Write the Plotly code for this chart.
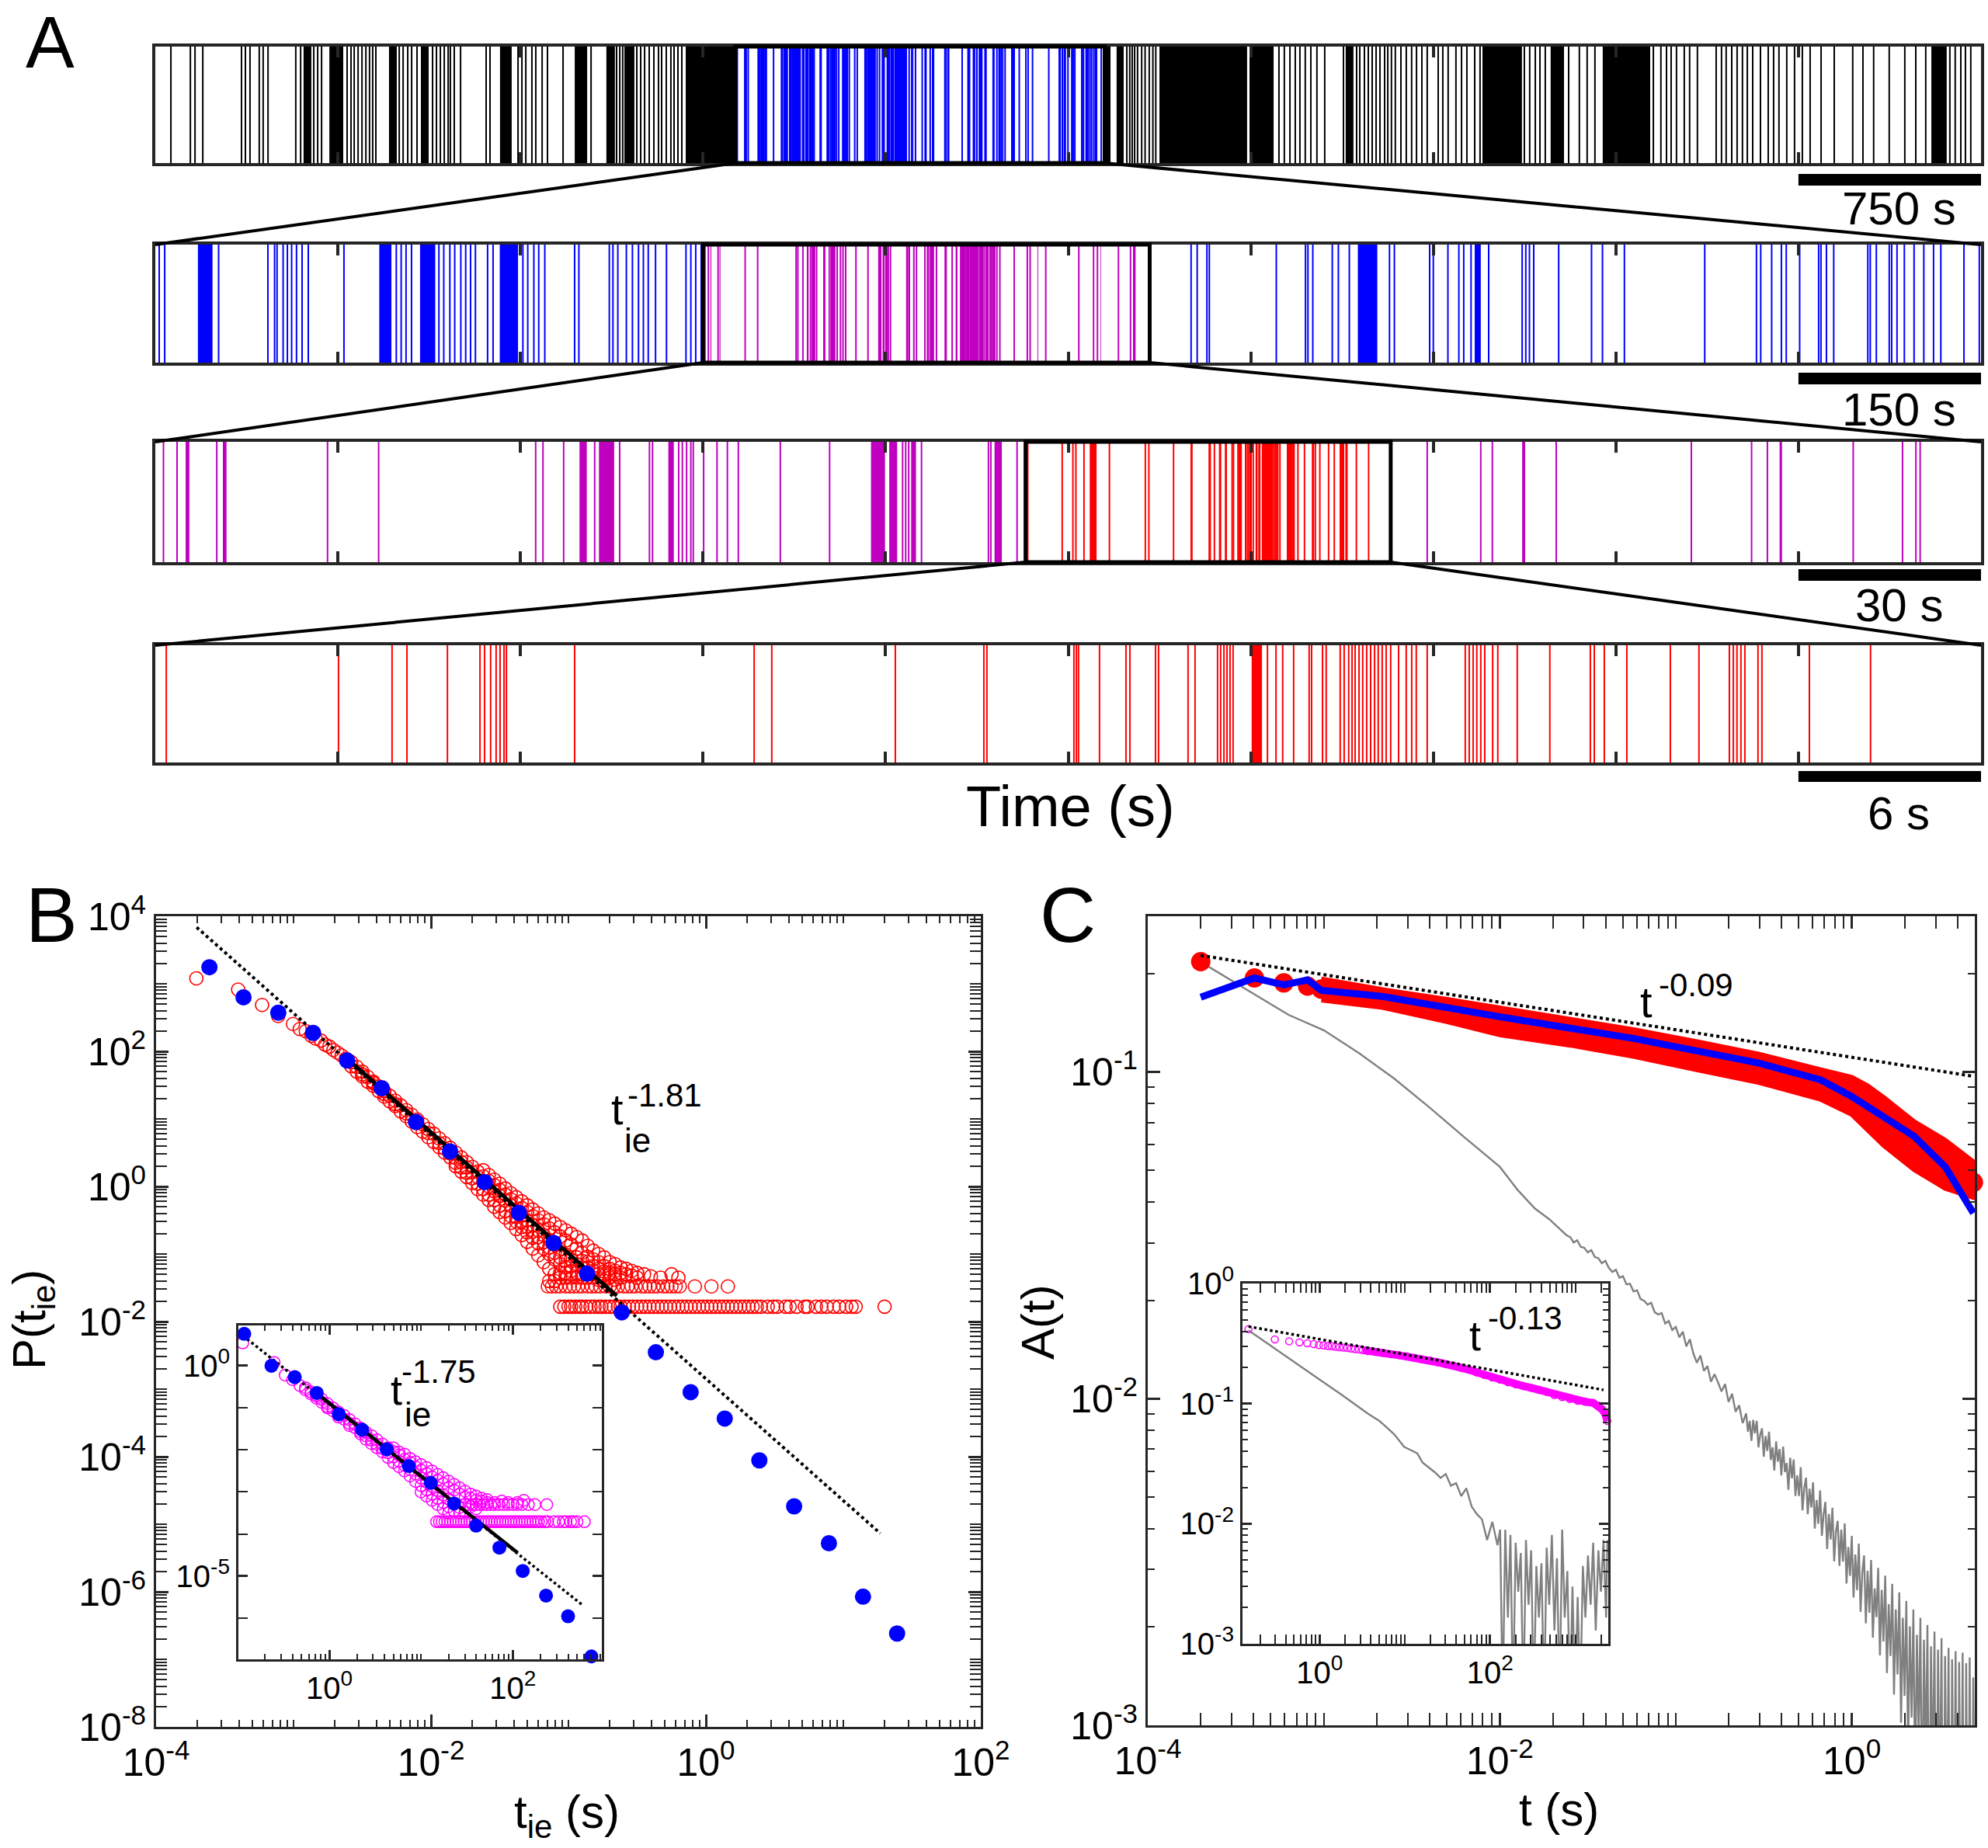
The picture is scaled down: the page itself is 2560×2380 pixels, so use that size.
import plotly.graph_objects as go

W, H = 2560, 2380
FONT = "Liberation Sans, Arial, Helvetica, sans-serif"
AXC = "#262626"

# ============================ DATA ============================
# ---- Panel A : event rasters (times in s) ----
row_span_s = [7500, 1500, 300, 60]
zoom_windows_s = [(2383, 3900), (450, 817), (143, 203)]
scale_bar_s = [750, 150, 30, 6]
scale_bar_text = ["750 s", "150 s", "30 s", "6 s"]
row_colors = ["#000000", "#0000FF", "#BF00BF", "#FF0000"]

row1_spikes = [64, 144, 163, 195, 354, 370, 389, 427, 443, 463, 577, 597, 651, 667, 683,
               788, 804, 817, 833, 849, 865, 880, 893, 906, 1002, 1018, 1037, 1053, 1075,
               1139, 1155, 1171, 1187, 1203, 1212, 1228, 1254, 1359, 1375, 1490, 1506, 1522,
               1547, 1563, 1589, 1611, 1675, 1790, 1895, 1908, 1920, 1978, 1994, 2010, 2029,
               2048, 2067, 2080, 2099, 2118, 2131, 2147, 2163,
               3991, 4003, 4013, 4023, 4035, 4052, 4066, 4083, 4098, 4110,
               4616, 4638, 4661, 4683, 4702, 4724, 4747, 4772,
               4804, 4881, 4935, 4948, 4967, 4983, 4999, 5015, 5031, 5050, 5063, 5078, 5094,
               5117, 5139, 5161, 5181, 5203, 5225, 5270, 5289, 5311, 5343, 5366, 5388, 5420,
               5442, 5624, 5646, 5669, 5688, 5710, 5806, 5850, 5882, 5914, 6154, 6185, 6208,
               6227, 6249, 6281, 6303, 6335, 6412, 6434, 6453, 6476, 6498, 6520, 6540, 6562,
               6594, 6626, 6648, 6670, 6702, 6734, 6766, 6798, 6843, 6897, 6973, 7015, 7059,
               7123, 7187, 7232, 7273, 7372, 7394, 7417, 7436, 7458]
row1_bursts = [(609, 641), (715, 772), (960, 992), (1091, 1123), (1416, 1464), (1723, 1774),
               (1853, 1888), (1927, 1968), (2179, 2383), (3908, 3924), (3949, 3978),
               (4125, 4485), (4495, 4594), (4890, 4922), (5452, 5614), (5732, 5787),
               (5946, 6141), (7296, 7359)]

row2_spikes = [3.2, 7.7, 52, 92.5, 98, 100, 105, 108.5, 112, 116, 120.6, 125.7, 155, 198, 202,
               206, 210.5, 233, 237, 242, 246, 251, 255, 259, 263, 273, 277.5, 302, 306, 311,
               315, 320, 344.5, 348, 373, 376, 380, 387, 392, 397, 401, 405, 411, 420, 436,
               440, 444, 448.5,
               851, 856, 864, 866, 921, 945, 947, 951, 967, 972, 981, 1014, 1018, 1047, 1050,
               1062, 1071, 1075, 1081, 1095.5, 1123, 1126, 1129, 1132.5, 1153, 1180, 1189,
               1207, 1273, 1315.5, 1319, 1328, 1336, 1340, 1351, 1366.6, 1368.5, 1373, 1379,
               1407, 1409, 1414, 1424.6, 1426.6, 1431, 1437, 1445, 1453, 1461, 1467, 1486,
               1498.6]
row2_bursts = [(35, 47), (184, 194), (217.5, 230), (283, 298), (988, 1004), (1084, 1089)]

row3_spikes = [1.34, 3.57, 10.1, 28.3, 36.7, 62.5, 63.7, 67.1, 72.2, 76.3, 81.2, 81.7, 86.0,
               86.6, 87.3, 88.0, 88.4, 90.1, 92.3, 94.0, 95.8, 102.7, 110.8, 122.8, 123.3,
               123.8, 125.9, 136.9, 137.3, 141.6, 209.0, 217.8, 219.7, 230.2, 252.4, 262.3,
               264.9, 279.0, 287.1, 289.3, 290.0]
row3_bursts = [(4.98, 5.6), (11.1, 11.7), (69.7, 70.9), (72.9, 75.4), (84.3, 85.2),
               (117.6, 119.9), (120.6, 121.9), (124.2, 125.0), (137.9, 139.1),
               (224.6, 225.1), (266.9, 267.3)]

row4_spikes = [0.36, 6.02, 7.78, 8.27, 9.6, 10.67, 10.82, 11.02, 11.2, 11.33, 11.46, 11.54,
               13.78, 19.68, 20.26, 24.32, 27.23, 27.33, 30.19, 30.27, 30.34, 31.03, 31.9,
               32.03, 32.87, 32.97, 33.94, 34.17, 34.91, 35.01, 35.12, 35.22, 35.32, 35.42,
               36.55, 36.83, 37.05, 37.41, 37.92, 38.0, 38.36, 38.48, 38.94, 39.07, 39.22,
               39.33, 39.43, 39.56, 39.68, 39.81, 39.94, 40.07, 40.19, 40.32, 40.45, 40.6,
               40.86, 41.11, 41.29, 41.44, 41.8, 43.05, 43.18, 43.31, 43.43, 43.56, 43.69,
               43.95, 44.12, 44.76, 45.83, 47.16, 47.29, 47.62, 48.36, 49.79, 50.73, 51.73,
               51.86, 51.98, 52.11, 52.24, 52.67, 52.8, 54.36, 56.37]
row4_bursts = [(36.03, 36.37)]

# ---- Panel B : inter-event time distribution (log10 values) ----
b_blue_logt = [-3.612, -3.364, -3.111, -2.858, -2.610, -2.358, -2.109, -1.861, -1.609, -1.361,
               -1.108, -0.865, -0.612, -0.364, -0.111, 0.137, 0.389, 0.642, 0.895, 1.143, 1.391]
b_blue_logp = [3.245, 2.80, 2.573, 2.273, 1.864, 1.455, 0.955, 0.518, 0.064, -0.391, -0.836,
               -1.291, -1.864, -2.455, -3.045, -3.436, -4.055, -4.736, -5.282, -6.073, -6.618]
b_red_columns = [
    (-3.707, [3.08]), (-3.403, [2.914]), (-3.229, [2.687]), (-3.112, [2.523]),
    (-3.004, [2.405]), (-2.955, [2.33]), (-2.911, [2.299]), (-2.870, [2.23]),
    (-2.840, [2.19]), (-2.800, [2.16]), (-2.770, [2.10]), (-2.740, [2.07]),
    (-2.710, [2.02]), (-2.680, [1.98]), (-2.650, [1.94]), (-2.620, [1.89]),
    (-2.58, [1.84, 1.78]), (-2.54, [1.77, 1.70]), (-2.50, [1.70, 1.63, 1.66]),
    (-2.46, [1.62, 1.55]), (-2.42, [1.55, 1.49, 1.53]), (-2.38, [1.48, 1.41]),
    (-2.34, [1.41, 1.33, 1.37]), (-2.30, [1.34, 1.26]), (-2.26, [1.27, 1.19, 1.22]),
    (-2.22, [1.20, 1.11]), (-2.18, [1.13, 1.04, 1.08]), (-2.14, [1.06, 0.96]),
    (-2.10, [0.99, 0.88, 0.94]), (-2.06, [0.92, 0.81]), (-2.02, [0.85, 0.73, 0.79]),
    (-1.98, [0.78, 0.66]), (-1.94, [0.71, 0.58, 0.64]), (-1.90, [0.64, 0.50, 0.56]),
    (-1.86, [0.57, 0.43, 0.49]), (-1.82, [0.50, 0.35, 0.42, 0.30]),
    (-1.78, [0.43, 0.28, 0.36, 0.22]), (-1.74, [0.36, 0.20, 0.28, 0.14]),
    (-1.70, [0.29, 0.12, 0.21, 0.05]), (-1.66, [0.22, 0.04, 0.14, -0.04]),
    (-1.62, [0.15, -0.04, 0.07, -0.12, 0.24]), (-1.58, [0.08, -0.12, 0.00, -0.20, 0.17]),
    (-1.54, [0.02, -0.20, -0.07, -0.30, 0.10]), (-1.50, [-0.05, -0.28, -0.14, -0.38, 0.04]),
    (-1.46, [-0.12, -0.36, -0.21, -0.46, -0.03]), (-1.42, [-0.19, -0.44, -0.28, -0.54, -0.10]),
    (-1.38, [-0.25, -0.52, -0.36, -0.63, -0.16, -0.45]),
    (-1.34, [-0.32, -0.60, -0.43, -0.72, -0.22, -0.52]),
    (-1.30, [-0.38, -0.68, -0.50, -0.82, -0.28, -0.60]),
    (-1.26, [-0.44, -0.76, -0.57, -0.92, -0.34, -0.67]),
    (-1.22, [-0.50, -0.84, -0.65, -1.02, -0.40, -0.75]),
    (-1.18, [-0.56, -0.92, -0.72, -1.12, -0.46, -0.82]),
    (-1.14, [-0.62, -1.00, -0.79, -1.22, -0.50, -0.90, -1.40]),
    (-1.10, [-0.68, -1.08, -0.86, -1.30, -0.55, -0.98, -1.40]),
    (-1.06, [-0.74, -1.15, -0.94, -1.35, -0.60, -1.05, -1.28]),
    (-1.02, [-0.80, -1.20, -1.01, -1.35, -0.65, -1.10, -1.28]),
    (-0.98, [-0.86, -1.25, -1.08, -1.35, -0.70, -1.18]),
    (-0.94, [-0.92, -1.28, -1.15, -1.35, -0.75, -1.05]),
    (-0.90, [-0.98, -1.30, -1.20, -0.80, -1.10, -1.35]),
    (-0.86, [-1.04, -1.30, -1.20, -0.88, -1.12, -1.35]),
    (-0.82, [-1.08, -1.25, -1.35, -0.95, -1.18]),
    (-0.78, [-1.12, -1.30, -1.38, -1.00, -1.22]),
    (-0.74, [-1.18, -1.32, -1.40, -1.05, -1.26]),
    (-0.70, [-1.22, -1.35, -1.12, -1.28]), (-0.66, [-1.25, -1.38, -1.15, -1.30]),
    (-0.62, [-1.28, -1.20, -1.35]), (-0.58, [-1.30, -1.22]), (-0.54, [-1.32, -1.25]),
    (-0.50, [-1.28, -1.35]), (-0.45, [-1.30]), (-0.40, [-1.33]), (-0.33, [-1.35]),
    (-0.25, [-1.30]), (-0.20, [-1.35]),
]
b_red_floor_logp = -1.78
b_red_floor_logt = [-1.06, -1.03, -1.00, -0.98, -0.95, -0.92, -0.90, -0.87, -0.84, -0.81, -0.78,
                    -0.76, -0.73, -0.70, -0.67, -0.64, -0.62, -0.59, -0.56, -0.53, -0.50, -0.47,
                    -0.44, -0.41, -0.38, -0.35, -0.32, -0.29, -0.26, -0.23, -0.20, -0.17, -0.14,
                    -0.11, -0.08, -0.05, -0.02, 0.01, 0.04, 0.07, 0.10, 0.13, 0.16, 0.19, 0.22,
                    0.25, 0.28, 0.31, 0.34, 0.37, 0.40, 0.45, 0.49, 0.52, 0.58, 0.61, 0.66, 0.72,
                    0.74, 0.80, 0.84, 0.88, 0.93, 0.97, 1.02, 1.06, 1.09, 1.30]
b_red_floor2_logp = -1.48
b_red_floor2_logt = [-1.15, -1.12, -1.09, -1.06, -1.02, -0.99, -0.96, -0.93, -0.90, -0.86, -0.83,
                     -0.80, -0.77, -0.73, -0.70, -0.67, -0.64, -0.60, -0.57, -0.54, -0.51, -0.47,
                     -0.44, -0.41, -0.38, -0.35, -0.31, -0.28, -0.25, -0.22, -0.19, -0.08, 0.04, 0.16]
b_dotted_logt = [-3.705, 1.269]
b_dotted_logp = [3.836, -5.136]
b_solid_logt = [-2.568, -0.649]
b_solid_logp = [1.818, -1.618]

# inset of B
bi_blue_logt = [-0.926, -0.630, -0.376, -0.136, 0.104, 0.358, 0.626, 0.866, 1.106, 1.360, 1.600,
                1.854, 2.108, 2.362, 2.602, 2.856]
bi_blue_logp = [0.760, 0.002, -0.270, -0.645, -1.151, -1.521, -1.983, -2.383, -2.784, -3.277,
                -3.800, -4.324, -4.878, -5.464, -5.957, -6.911]
bi_mag_columns = [
    (-0.943, [0.543]), (-0.60, [0.08]), (-0.48, [-0.22]), (-0.40, [-0.33]), (-0.32, [-0.47]),
    (-0.26, [-0.57, -0.52]), (-0.20, [-0.67, -0.62]), (-0.14, [-0.77, -0.72, -0.70]),
    (-0.08, [-0.87, -0.80]), (-0.02, [-0.97, -0.90, -1.00]), (0.04, [-1.07, -1.00]),
    (0.10, [-1.17, -1.10, -1.22]), (0.16, [-1.27, -1.18]), (0.22, [-1.37, -1.28, -1.42]),
    (0.28, [-1.47, -1.38]), (0.34, [-1.57, -1.48, -1.62]), (0.40, [-1.67, -1.58, -1.75]),
    (0.46, [-1.77, -1.66, -1.85]), (0.52, [-1.87, -1.76, -1.95]), (0.58, [-1.97, -1.86, -2.05]),
    (0.64, [-2.07, -1.95, -2.18]), (0.70, [-2.17, -2.04, -2.30, -1.95]),
    (0.76, [-2.27, -2.12, -2.40, -2.05]), (0.82, [-2.37, -2.22, -2.50, -2.10]),
    (0.88, [-2.47, -2.30, -2.62, -2.20]), (0.94, [-2.57, -2.40, -2.75, -2.28]),
    (1.00, [-2.67, -2.48, -2.85, -2.35, -3.00]), (1.06, [-2.77, -2.56, -2.95, -2.42, -3.10]),
    (1.12, [-2.87, -2.64, -3.05, -2.50, -3.20]), (1.18, [-2.97, -2.72, -3.15, -2.58, -3.30]),
    (1.24, [-3.07, -2.80, -3.25, -2.66, -3.40]), (1.30, [-3.17, -2.90, -3.35, -2.74, -3.50]),
    (1.36, [-3.27, -2.96, -3.45, -2.82]), (1.42, [-3.37, -3.05, -3.50, -2.90]),
    (1.48, [-3.47, -3.12, -2.98, -3.30]), (1.54, [-3.15, -3.05, -3.35]),
    (1.60, [-3.20, -3.10, -3.40]), (1.66, [-3.22, -3.15]), (1.72, [-3.25, -3.18]),
    (1.80, [-3.25]), (1.88, [-3.22]), (1.95, [-3.25]), (2.05, [-3.25]), (2.12, [-3.20]),
]
bi_mag_floor_logp = -3.708
bi_mag_floor_logt = [1.17, 1.20, 1.23, 1.26, 1.29, 1.32, 1.35, 1.38, 1.41, 1.44, 1.47, 1.50, 1.53,
                     1.56, 1.59, 1.62, 1.65, 1.68, 1.71, 1.74, 1.77, 1.80, 1.83, 1.86, 1.89, 1.92,
                     1.95, 1.98, 2.01, 2.04, 2.07, 2.10, 2.13, 2.16, 2.19, 2.22, 2.25, 2.28, 2.31,
                     2.35, 2.38, 2.45, 2.50, 2.55, 2.58, 2.63, 2.66, 2.70, 2.78]
bi_mag_floor2_logp = -3.30
bi_mag_floor2_logt = [1.52, 1.56, 1.60, 1.64, 1.68, 1.72, 1.76, 1.80, 1.85, 1.90, 1.95, 2.00,
                      2.05, 2.10, 2.17, 2.24, 2.37]
bi_dotted_logt = [-0.941, 2.771]
bi_dotted_logp = [0.715, -5.710]
bi_solid_logt = [-0.150, 2.052]
bi_solid_logp = [-0.627, -4.447]

# ---- Panel C : autocorrelation A(t) (log10 values) ----
c_red_logt = [-3.699, -3.394, -3.227, -3.092, -3.014, -2.943, -2.85, -2.75, -2.66, -2.55, -2.45,
              -2.35, -2.25, -2.15, -2.05, -1.95, -1.85, -1.75, -1.65, -1.55, -1.45, -1.35, -1.25,
              -1.15, -1.05, -0.95, -0.85, -0.75, -0.65, -0.55, -0.45, -0.35, -0.25, -0.15, -0.05,
              0.05, 0.15, 0.25, 0.35, 0.45, 0.55, 0.63, 0.691]
c_red_loga = [-0.662, -0.712, -0.727, -0.737, -0.746, -0.750, -0.758, -0.768, -0.775, -0.785,
              -0.794, -0.804, -0.813, -0.824, -0.835, -0.848, -0.857, -0.866, -0.874, -0.883,
              -0.892, -0.902, -0.912, -0.924, -0.935, -0.947, -0.960, -0.972, -0.984, -0.996,
              -1.008, -1.020, -1.032, -1.045, -1.062, -1.095, -1.140, -1.180, -1.222, -1.258,
              -1.290, -1.315, -1.338]
# upper / lower edges of the dense red band of circles
c_red_upper = [(-3.014, -0.715), (-2.66, -0.748), (-2.30, -0.777), (-2.0, -0.804), (-1.6, -0.837),
               (-1.24, -0.870), (-0.88, -0.907), (-0.53, -0.945), (-0.18, -0.992), (0.0, -1.016),
               (0.09, -1.042), (0.18, -1.077), (0.355, -1.152), (0.53, -1.208), (0.69, -1.274)]
c_red_lower = [(-3.014, -0.780), (-2.66, -0.803), (-2.30, -0.846), (-2.0, -0.886), (-1.6, -0.918),
               (-1.24, -0.952), (-0.88, -0.993), (-0.53, -1.032), (-0.18, -1.083), (0.0, -1.130),
               (0.18, -1.224), (0.355, -1.299), (0.53, -1.356), (0.69, -1.384)]
c_blue_logt = [-3.699, -3.394, -3.227, -3.092, -3.014, -2.660, -1.996, -1.241, -0.532, -0.177,
               0.0, 0.355, 0.532, 0.691]
c_blue_loga = [-0.771, -0.712, -0.733, -0.718, -0.750, -0.769, -0.831, -0.897, -0.972, -1.024,
               -1.075, -1.197, -1.291, -1.432]
c_gray = [
    (-3.699, -0.663), (-3.40, -0.760), (-3.20, -0.825), (-3.00, -0.872), (-2.80, -0.942),
    (-2.60, -1.020), (-2.40, -1.108), (-2.20, -1.200), (-2.00, -1.290), (-1.90, -1.360),
    (-1.80, -1.418), (-1.72, -1.450), (-1.66, -1.480), (-1.64, -1.488), (-1.62, -1.500),
    (-1.60, -1.505), (-1.58, -1.522), (-1.56, -1.515), (-1.54, -1.535), (-1.52, -1.538),
    (-1.50, -1.552), (-1.48, -1.545), (-1.46, -1.566), (-1.44, -1.570), (-1.42, -1.585),
    (-1.40, -1.578), (-1.38, -1.600), (-1.36, -1.612), (-1.34, -1.605), (-1.32, -1.630),
    (-1.30, -1.625), (-1.28, -1.650), (-1.26, -1.648), (-1.24, -1.672), (-1.22, -1.668),
    (-1.20, -1.695), (-1.18, -1.700), (-1.16, -1.712), (-1.14, -1.706), (-1.12, -1.735),
    (-1.10, -1.742), (-1.08, -1.738), (-1.06, -1.770), (-1.04, -1.762), (-1.02, -1.790),
    (-1.00, -1.780), (-0.98, -1.812), (-0.96, -1.795), (-0.94, -1.840), (-0.92, -1.818),
    (-0.90, -1.862), (-0.88, -1.890), (-0.86, -1.868), (-0.84, -1.915), (-0.82, -1.900),
    (-0.80, -1.948), (-0.78, -1.925), (-0.76, -1.950), (-0.74, -1.978), (-0.72, -1.955),
    (-0.70, -2.010), (-0.68, -1.985), (-0.66, -2.040), (-0.64, -2.020), (-0.62, -2.075),
    (-0.60, -2.045), (-0.59, -2.101), (-0.58, -2.068), (-0.57, -2.129), (-0.56, -2.065),
    (-0.55, -2.106), (-0.54, -2.068), (-0.53, -2.149), (-0.52, -2.110), (-0.51, -2.091),
    (-0.50, -2.178), (-0.49, -2.114), (-0.48, -2.160), (-0.47, -2.101), (-0.46, -2.188),
    (-0.45, -2.149), (-0.44, -2.220), (-0.43, -2.131), (-0.42, -2.193), (-0.41, -2.154),
    (-0.40, -2.235), (-0.39, -2.147), (-0.38, -2.225), (-0.37, -2.197), (-0.36, -2.279),
    (-0.35, -2.181), (-0.34, -2.244), (-0.33, -2.186), (-0.32, -2.298), (-0.31, -2.235),
    (-0.30, -2.298), (-0.29, -2.210), (-0.28, -2.342), (-0.27, -2.274), (-0.26, -2.242),
    (-0.25, -2.354), (-0.24, -2.276), (-0.23, -2.333), (-0.22, -2.256), (-0.21, -2.398),
    (-0.20, -2.310), (-0.19, -2.383), (-0.18, -2.281), (-0.17, -2.420), (-0.16, -2.353),
    (-0.15, -2.316), (-0.14, -2.460), (-0.13, -2.353), (-0.12, -2.431), (-0.11, -2.334),
    (-0.10, -2.498), (-0.09, -2.406), (-0.08, -2.374), (-0.07, -2.512), (-0.06, -2.401),
    (-0.05, -2.499), (-0.04, -2.382), (-0.03, -2.566), (-0.02, -2.454), (-0.01, -2.542),
    (0.00, -2.420), (0.01, -2.609), (0.02, -2.477), (0.03, -2.586), (0.04, -2.444),
    (0.05, -2.653), (0.06, -2.531), (0.07, -2.480), (0.08, -2.688), (0.09, -2.527),
    (0.10, -2.655), (0.11, -2.494), (0.12, -2.732), (0.13, -2.581), (0.14, -2.669),
    (0.15, -2.518), (0.16, -2.786), (0.17, -2.585), (0.18, -2.743), (0.19, -2.542),
    (0.20, -2.840), (0.21, -2.629), (0.22, -2.788), (0.23, -2.567), (0.24, -2.906),
    (0.25, -2.645), (0.26, -2.844), (0.27, -2.593), (0.28, -2.992), (0.29, -2.671),
    (0.30, -2.910), (0.31, -2.619), (0.32, -3.078), (0.33, -2.697), (0.34, -2.976),
    (0.35, -2.645), (0.36, -3.214), (0.37, -2.723), (0.38, -3.032), (0.39, -2.671),
    (0.40, -3.350), (0.41, -2.738), (0.42, -3.115), (0.43, -2.693), (0.44, -3.480),
    (0.45, -2.758), (0.46, -3.195), (0.47, -2.713), (0.48, -3.610), (0.49, -2.768),
    (0.50, -3.275), (0.51, -2.733), (0.52, -3.740), (0.53, -2.788), (0.54, -3.355),
    (0.55, -2.763), (0.56, -3.770), (0.57, -2.798), (0.58, -3.435), (0.59, -2.773),
    (0.60, -3.800), (0.61, -2.806), (0.62, -3.512), (0.63, -2.778), (0.64, -3.824),
    (0.65, -2.810), (0.66, -3.636), (0.67, -2.792), (0.68, -3.848), (0.69, -2.854),
    (0.70, -3.560),
]
c_dotted_logt = [-3.699, 0.691]
c_dotted_loga = [-0.643, -1.013]

# inset of C
ci_mag_logt = [-0.836, -0.526, -0.359, -0.238, -0.146, -0.070, -0.010, 0.045, 0.097, 0.142, 0.188,
               0.233, 0.279, 0.324, 0.370, 0.415, 0.461, 0.506, 0.567, 0.659, 0.750, 0.841, 0.932,
               1.024, 1.115, 1.206, 1.297, 1.388, 1.480, 1.571, 1.662, 1.753, 1.844, 1.935, 2.026,
               2.118, 2.209, 2.300, 2.391, 2.482, 2.573, 2.664, 2.755, 2.846, 2.937, 3.028, 3.119,
               3.210, 3.271, 3.316, 3.347, 3.377]
ci_mag_loga = [-0.380, -0.466, -0.481, -0.490, -0.498, -0.505, -0.512, -0.516, -0.520, -0.522,
               -0.527, -0.531, -0.533, -0.537, -0.541, -0.546, -0.550, -0.554, -0.563, -0.570,
               -0.578, -0.589, -0.597, -0.606, -0.619, -0.632, -0.641, -0.656, -0.671, -0.684,
               -0.701, -0.718, -0.740, -0.761, -0.783, -0.800, -0.822, -0.839, -0.854, -0.869,
               -0.886, -0.903, -0.929, -0.946, -0.962, -0.977, -0.985, -0.994, -1.016, -1.048,
               -1.080, -1.145]
ci_gray = [
    (-0.836, -0.390), (-0.131, -0.736), (0.264, -0.930), (0.568, -1.085), (0.704, -1.146),
    (0.871, -1.253), (0.993, -1.361), (1.054, -1.382), (1.145, -1.414), (1.206, -1.490),
    (1.266, -1.522), (1.358, -1.576), (1.419, -1.619), (1.479, -1.586), (1.540, -1.683),
    (1.601, -1.662), (1.662, -1.770), (1.722, -1.705), (1.783, -1.856), (1.844, -1.920),
    (1.905, -1.964), (1.965, -2.136), (2.026, -1.985), (2.087, -2.179), (2.118, -2.050),
    (2.148, -3.5), (2.178, -2.050), (2.209, -2.782), (2.239, -2.093), (2.269, -3.5),
    (2.300, -2.158), (2.330, -2.567), (2.360, -2.244), (2.391, -3.5), (2.421, -2.136),
    (2.451, -2.675), (2.482, -2.222), (2.512, -3.5), (2.543, -2.352), (2.573, -2.782),
    (2.603, -2.330), (2.634, -3.5), (2.664, -2.200), (2.694, -2.675), (2.725, -2.093),
    (2.755, -2.890), (2.785, -2.287), (2.816, -3.5), (2.846, -2.050), (2.876, -2.782),
    (2.907, -2.394), (2.937, -3.5), (2.967, -2.524), (2.998, -3.5), (3.028, -2.610),
    (3.058, -3.5), (3.089, -2.352), (3.119, -2.782), (3.149, -2.265), (3.180, -2.675),
    (3.210, -2.158), (3.240, -2.890), (3.271, -2.222), (3.301, -2.567), (3.331, -2.136),
    (3.362, -2.782), (3.377, -2.136),
]
ci_dotted_logt = [-0.836, 3.331]
ci_dotted_loga = [-0.358, -0.886]

# ============================ LAYOUT GEOMETRY (px) ============================
ROW_X = (200, 2551)
ROW_Y = [(60, 210), (315, 467), (569, 724), (831, 982)]
BAR_Y = [(224, 239), (480, 495), (733, 748), (993, 1007)]
BAR_LABEL_Y = [268, 527, 780, 1047]
B_BOX = (201, 1263, 1180, 2224)
BI_BOX = (307, 775, 1707, 2137)
C_BOX = (1478, 2543, 1180, 2222)
CI_BOX = (1600, 2071, 1653, 2117)


def xdom(a, b):
    return [a / W, b / W]


def ydom(top, bottom):
    return [1 - bottom / H, 1 - top / H]


def xa(i):
    return "x" if i == 1 else f"x{i}"


def ya(i):
    return "y" if i == 1 else f"y{i}"


def e10(v):
    return [10.0 ** a for a in v]


fig = go.Figure()


# ---------------- Panel A ----------------
def spike_xy(times):
    xs, ys = [], []
    for t in times:
        xs += [t, t, None]
        ys += [0, 1, None]
    return xs, ys


def burst_xy(bursts):
    xs, ys = [], []
    for a, b in bursts:
        xs += [a, b, b, a, a, None]
        ys += [0, 0, 1, 1, 0, None]
    return xs, ys


def remap(times, win, span):
    a, b = win
    return [a + t * (b - a) / span for t in times]


def remap_b(bursts, win, span):
    a, b = win
    return [(a + s * (b - a) / span, a + e * (b - a) / span) for s, e in bursts]


c4_sp, c4_bu = row4_spikes, row4_bursts
c3_sp = row3_spikes + remap(c4_sp, zoom_windows_s[2], row_span_s[3])
c3_bu = row3_bursts + remap_b(c4_bu, zoom_windows_s[2], row_span_s[3])
c2_sp = row2_spikes + remap(c3_sp, zoom_windows_s[1], row_span_s[2])
c2_bu = row2_bursts + remap_b(c3_bu, zoom_windows_s[1], row_span_s[2])

row_draw = [
    [(row1_spikes, row1_bursts, row_colors[0]),
     (remap(c2_sp, zoom_windows_s[0], row_span_s[1]), remap_b(c2_bu, zoom_windows_s[0], row_span_s[1]), row_colors[1])],
    [(row2_spikes, row2_bursts, row_colors[1]),
     (remap(c3_sp, zoom_windows_s[1], row_span_s[2]), remap_b(c3_bu, zoom_windows_s[1], row_span_s[2]), "#C000C0")],
    [(row3_spikes, row3_bursts, row_colors[2]),
     (remap(c4_sp, zoom_windows_s[2], row_span_s[3]), remap_b(c4_bu, zoom_windows_s[2], row_span_s[3]), row_colors[3])],
    [(row4_spikes, row4_bursts, row_colors[3])],
]
for r, parts in enumerate(row_draw):
    for sp, bu, col in parts:
        bx, by = burst_xy(bu)
        if bx:
            fig.add_trace(go.Scatter(x=bx, y=by, mode="lines", fill="toself", fillcolor=col,
                                     line=dict(width=0, color=col), xaxis=xa(r + 1), yaxis=ya(r + 1),
                                     hoverinfo="skip"))
        sx, sy = spike_xy(sp)
        fig.add_trace(go.Scatter(x=sx, y=sy, mode="lines", line=dict(width=2, color=col),
                                 xaxis=xa(r + 1), yaxis=ya(r + 1), hoverinfo="skip"))

# ---------------- Panel B ----------------
bx_red, by_red = [], []
for lt, lps in b_red_columns:
    for lp in lps:
        bx_red.append(lt)
        by_red.append(lp)
bx_red += b_red_floor_logt + b_red_floor2_logt
by_red += [b_red_floor_logp] * len(b_red_floor_logt) + [b_red_floor2_logp] * len(b_red_floor2_logt)
fig.add_trace(go.Scatter(x=e10(bx_red), y=e10(by_red), mode="markers", xaxis="x5", yaxis="y5",
                         marker=dict(symbol="circle-open", size=17, color="#FF0000", line=dict(width=1.6))))
fig.add_trace(go.Scatter(x=e10(b_dotted_logt), y=e10(b_dotted_logp), mode="lines", xaxis="x5", yaxis="y5",
                         line=dict(color="black", width=4, dash="dot")))
fig.add_trace(go.Scatter(x=e10(b_solid_logt), y=e10(b_solid_logp), mode="lines", xaxis="x5", yaxis="y5",
                         line=dict(color="black", width=5)))
fig.add_trace(go.Scatter(x=e10(b_blue_logt), y=e10(b_blue_logp), mode="markers", xaxis="x5", yaxis="y5",
                         marker=dict(symbol="circle", size=21, color="#0000FF"), cliponaxis=False))

# inset B
mx, my = [], []
for lt, lps in bi_mag_columns:
    for lp in lps:
        mx.append(lt)
        my.append(lp)
mx += bi_mag_floor_logt + bi_mag_floor2_logt
my += [bi_mag_floor_logp] * len(bi_mag_floor_logt) + [bi_mag_floor2_logp] * len(bi_mag_floor2_logt)
fig.add_trace(go.Scatter(x=e10(mx), y=e10(my), mode="markers", xaxis="x6", yaxis="y6",
                         marker=dict(symbol="circle-open", size=15, color="#FF00FF", line=dict(width=1.5))))
fig.add_trace(go.Scatter(x=e10(bi_dotted_logt), y=e10(bi_dotted_logp), mode="lines", xaxis="x6", yaxis="y6",
                         line=dict(color="black", width=3.5, dash="dot")))
fig.add_trace(go.Scatter(x=e10(bi_solid_logt), y=e10(bi_solid_logp), mode="lines", xaxis="x6", yaxis="y6",
                         line=dict(color="black", width=4.5)))
fig.add_trace(go.Scatter(x=e10(bi_blue_logt), y=e10(bi_blue_logp), mode="markers", xaxis="x6", yaxis="y6",
                         marker=dict(symbol="circle", size=18, color="#0000FF"), cliponaxis=False))

# ---------------- Panel C ----------------
fig.add_trace(go.Scatter(x=e10([p[0] for p in c_gray]), y=e10([p[1] for p in c_gray]), mode="lines",
                         xaxis="x7", yaxis="y7", line=dict(color="#808080", width=2.4)))
poly = c_red_upper + c_red_lower[::-1]
fig.add_trace(go.Scatter(x=e10([p[0] for p in poly]), y=e10([p[1] for p in poly]), mode="lines",
                         fill="toself", fillcolor="#FF0000", line=dict(color="#FF0000", width=6),
                         xaxis="x7", yaxis="y7"))
fig.add_trace(go.Scatter(x=e10(c_red_logt), y=e10(c_red_loga), mode="markers", xaxis="x7", yaxis="y7",
                         cliponaxis=False, marker=dict(symbol="circle", size=25, color="#FF0000")))
fig.add_trace(go.Scatter(x=e10(c_blue_logt), y=e10(c_blue_loga), mode="lines", xaxis="x7", yaxis="y7",
                         line=dict(color="#0000FF", width=9)))
fig.add_trace(go.Scatter(x=e10(c_dotted_logt), y=e10(c_dotted_loga), mode="lines", xaxis="x7", yaxis="y7",
                         line=dict(color="black", width=4, dash="dot")))

# inset C
fig.add_trace(go.Scatter(x=e10([p[0] for p in ci_gray]), y=e10([p[1] for p in ci_gray]), mode="lines",
                         xaxis="x8", yaxis="y8", line=dict(color="#808080", width=2.4)))
mb_t = [t for t in ci_mag_logt if t >= 0.5]
mb_a = [a for t, a in zip(ci_mag_logt, ci_mag_loga) if t >= 0.5]
fig.add_trace(go.Scatter(x=e10(mb_t), y=e10(mb_a), mode="lines", xaxis="x8", yaxis="y8",
                         line=dict(color="#FF00FF", width=10)))
fig.add_trace(go.Scatter(x=e10(ci_mag_logt), y=e10(ci_mag_loga), mode="markers", xaxis="x8", yaxis="y8",
                         cliponaxis=False,
                         marker=dict(symbol="circle-open", size=9, color="#FF00FF", line=dict(width=1.5))))
fig.add_trace(go.Scatter(x=e10(ci_dotted_logt), y=e10(ci_dotted_loga), mode="lines", xaxis="x8", yaxis="y8",
                         line=dict(color="black", width=3.5, dash="dot")))


# ============================ AXES ============================
def log_axis(dom, rng, lo, hi, labeled, fsize, tlen, anchor, sub_minor=True, dec_len=None):
    major = sorted(labeled)
    vals = [10.0 ** k for k in major]
    text = [f"10<sup>{k}</sup>" for k in major]
    mv = [10.0 ** k for k in range(lo, hi + 1) if k not in labeled]
    if sub_minor:
        mv += [m * 10.0 ** k for k in range(lo - 1, hi + 1) for m in range(2, 10)]
    return dict(type="log", domain=dom, range=rng, anchor=anchor, tickmode="array",
                tickvals=vals, ticktext=text, ticks="inside", ticklen=tlen, tickwidth=2.5,
                tickcolor=AXC, showline=True, linecolor=AXC, linewidth=3, mirror="ticks",
                showgrid=False, zeroline=False, automargin=False,
                tickfont=dict(size=fsize, family=FONT, color="black"),
                minor=dict(tickmode="array", tickvals=mv, ticks="inside",
                           ticklen=dec_len if dec_len else tlen * 0.55, tickwidth=1.8,
                           tickcolor=AXC, showgrid=False))


lay = dict(width=W, height=H, margin=dict(l=0, r=0, t=0, b=0, pad=0, autoexpand=False),
           paper_bgcolor="white", plot_bgcolor="rgba(0,0,0,0)", showlegend=False,
           font=dict(family=FONT, color="black"))

for r in range(4):
    T = row_span_s[r]
    i = r + 1
    kx = "xaxis" if i == 1 else f"xaxis{i}"
    ky = "yaxis" if i == 1 else f"yaxis{i}"
    lay[kx] = dict(domain=xdom(*ROW_X), range=[0, T], anchor=ya(i), showline=True, linecolor=AXC,
                   linewidth=4, mirror="ticks", ticks="inside", ticklen=14, tickwidth=4,
                   tickcolor=AXC, tickmode="linear", tick0=0, dtick=T / 10, showticklabels=False,
                   showgrid=False, zeroline=False, automargin=False)
    lay[ky] = dict(domain=ydom(*ROW_Y[r]), range=[0, 1], anchor=xa(i), showline=True, linecolor=AXC,
                   linewidth=4, mirror=True, ticks="", showticklabels=False, showgrid=False,
                   zeroline=False, automargin=False)

lay["xaxis5"] = log_axis(xdom(B_BOX[0], B_BOX[1]), [-4, 2], -4, 2, [-4, -2, 0, 2], 50, 16, "y5")
lay["yaxis5"] = log_axis(ydom(B_BOX[2], B_BOX[3]), [-8, 4], -8, 4, [-8, -6, -4, -2, 0, 2, 4], 50, 16, "x5",
                         dec_len=14)
lay["xaxis6"] = log_axis(xdom(BI_BOX[0], BI_BOX[1]), [-0.99, 2.97], -1, 2, [0, 2], 40, 12, "y6")
lay["yaxis6"] = log_axis(ydom(BI_BOX[2], BI_BOX[3]), [-6.98, 0.96], -6, 0, [0, -5], 40, 12, "x6",
                         sub_minor=False, dec_len=12)
lay["xaxis7"] = log_axis(xdom(C_BOX[0], C_BOX[1]), [-4, 0.699], -4, 0, [-4, -2, 0], 50, 16, "y7",
                         dec_len=16)
lay["yaxis7"] = log_axis(ydom(C_BOX[2], C_BOX[3]), [-3, -0.523], -3, -1, [-3, -2, -1], 50, 16, "x7")
lay["xaxis8"] = log_axis(xdom(CI_BOX[0], CI_BOX[1]), [-0.906, 3.387], 0, 3, [0, 2], 40, 12, "y8",
                         dec_len=12)
lay["yaxis8"] = log_axis(ydom(CI_BOX[2], CI_BOX[3]), [-3, 0], -3, 0, [0, -1, -2, -3], 40, 12, "x8")

# ============================ SHAPES ============================
shapes = []


def row_px(r, t):
    return (ROW_X[0] + t / row_span_s[r] * (ROW_X[1] - ROW_X[0])) / W


for r in range(3):
    w0, w1 = zoom_windows_s[r]
    shapes.append(dict(type="rect", xref=xa(r + 1), yref=f"{ya(r + 1)} domain", x0=w0, x1=w1,
                       y0=0, y1=1, line=dict(color="black", width=5), fillcolor="rgba(0,0,0,0)"))
    yb = 1 - ROW_Y[r][1] / H
    yt = 1 - ROW_Y[r + 1][0] / H
    shapes.append(dict(type="line", xref="paper", yref="paper", x0=row_px(r, w0), y0=yb,
                       x1=ROW_X[0] / W, y1=yt, line=dict(color="black", width=4)))
    shapes.append(dict(type="line", xref="paper", yref="paper", x0=row_px(r, w1), y0=yb,
                       x1=ROW_X[1] / W, y1=yt, line=dict(color="black", width=4)))

for r in range(4):
    T = row_span_s[r]
    shapes.append(dict(type="rect", xref=xa(r + 1), yref="paper", x0=T - scale_bar_s[r], x1=T,
                       y0=1 - BAR_Y[r][1] / H, y1=1 - BAR_Y[r][0] / H, fillcolor="black",
                       line=dict(width=0)))

lay["shapes"] = shapes

# ============================ TEXT ============================
ann = []


def txt(text, x, y, size, xanchor="center", yanchor="middle", angle=0):
    ann.append(dict(text=text, x=x / W, y=1 - y / H, xref="paper", yref="paper", showarrow=False,
                    font=dict(size=size, family=FONT, color="black"), xanchor=xanchor,
                    yanchor=yanchor, textangle=angle))


for r in range(4):
    T = row_span_s[r]
    ann.append(dict(text=scale_bar_text[r], x=T - scale_bar_s[r] / 2, xref=xa(r + 1),
                    y=1 - BAR_LABEL_Y[r] / H, yref="paper", showarrow=False, xshift=12,
                    font=dict(size=60, family=FONT, color="black"), xanchor="center", yanchor="middle"))

txt("A", 64, 0, 94, yanchor="top")
txt("B", 66, 1178, 100)
txt("C", 1375, 1178, 100)
txt("Time (s)", 1378, 1038, 74)
txt("P(t<sub>ie</sub>)", 42, 1700, 60, angle=-90)
txt("t<sub>ie</sub> (s)", 730, 2338, 60)
txt("A(t)", 1336, 1703, 60, angle=-90)
txt("t (s)", 2007, 2330, 60)

# fit exponents
txt("t", 795, 1428, 56)
txt("-1.81", 806, 1410, 42, xanchor="left")
txt("ie", 802, 1468, 44, xanchor="left")
txt("t", 510, 1790, 54)
txt("-1.75", 515, 1766, 42, xanchor="left")
txt("ie", 519, 1822, 44, xanchor="left")
txt("t", 2120, 1290, 56)
txt("-0.09", 2134, 1268, 42, xanchor="left")
txt("t", 1899, 1720, 54)
txt("-0.13", 1914, 1697, 42, xanchor="left")

lay["annotations"] = ann
fig.update_layout(**lay)
fig.write_html("out.html")
